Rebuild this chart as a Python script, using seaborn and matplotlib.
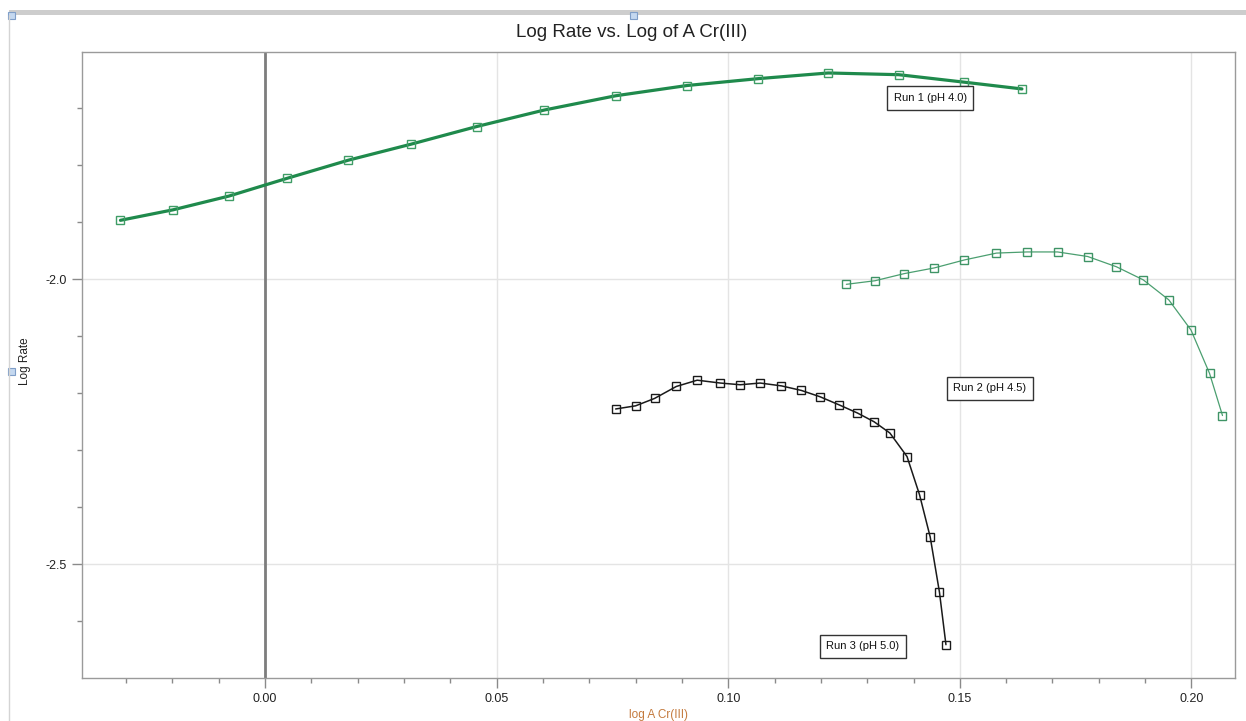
import numpy as np
import pandas as pd
import matplotlib
matplotlib.use("Agg")
import matplotlib.pyplot as plt
import seaborn as sns
from matplotlib.ticker import MultipleLocator, FormatStrFormatter
from matplotlib.patches import Rectangle
from matplotlib.lines import Line2D

# ---- data ----
run1_x = [-0.0312, -0.0198, -0.0078, 0.0047, 0.0180, 0.0315, 0.0457, 0.0603,
          0.0757, 0.0911, 0.1064, 0.1216, 0.1368, 0.1508, 0.1634]
run1_y = [-1.8965, -1.878, -1.854, -1.823, -1.791, -1.763, -1.732, -1.703,
          -1.678, -1.660, -1.648, -1.638, -1.641, -1.654, -1.666]

run2_x = [0.1255, 0.1317, 0.1380, 0.1445, 0.1510, 0.1579, 0.1645, 0.1711,
          0.1776, 0.1838, 0.1896, 0.1951, 0.1999, 0.2039, 0.2067]
run2_y = [-2.0088, -2.0025, -1.990, -1.980, -1.966, -1.954, -1.952, -1.952,
          -1.960, -1.978, -2.001, -2.036, -2.089, -2.165, -2.239]

run3_x = [0.0757, 0.0800, 0.0841, 0.0888, 0.0933, 0.0983, 0.1026, 0.1069,
          0.1115, 0.1158, 0.1198, 0.1240, 0.1279, 0.1315, 0.1349, 0.1386,
          0.1413, 0.1436, 0.1456, 0.1470]
run3_y = [-2.2275, -2.222, -2.209, -2.188, -2.177, -2.182, -2.185, -2.182,
          -2.187, -2.195, -2.206, -2.2205, -2.2346, -2.250, -2.2697, -2.311,
          -2.378, -2.452, -2.549, -2.641]

run_labels = ["Run 1 (pH 4.0)", "Run 2 (pH 4.5)", "Run 3 (pH 5.0)"]
label_pos = [(0.1436, -1.682), (0.1565, -2.191), (0.1291, -2.644)]

title = "Log Rate vs. Log of A Cr(III)"
xlabel = "log A Cr(III)"
ylabel = "Log Rate"

# ---- style ----
sns.set_theme(style="white")
plt.rcParams["font.family"] = ["Liberation Sans", "DejaVu Sans"]
plt.rcParams["axes.unicode_minus"] = False

W, H = 1246, 721
fig = plt.figure(figsize=(W / 100, H / 100), dpi=100)
fig.patch.set_facecolor("white")

left, right, top, bottom = 82, 1235, 52, 678
ax = fig.add_axes([left / W, 1 - bottom / H, (right - left) / W, (bottom - top) / H])

ax.set_xlim(-0.0395, 0.2094)
ax.set_ylim(-2.6995, -1.6012)

ax.grid(True, which="major", color="#e4e4e4", lw=1, zorder=0)
ax.axvline(0, color="#7d7d7d", lw=2, zorder=1)

series = [
    (run1_x, run1_y, dict(color="#1f8a4c", lw=2.3, markeredgecolor="#3f9d66")),
    (run2_x, run2_y, dict(color="#4b9f70", lw=0.9, markeredgecolor="#3f9466")),
    (run3_x, run3_y, dict(color="#1a1a1a", lw=1.1, markeredgecolor="#1a1a1a")),
]
for xs, ys, kw in series:
    df = pd.DataFrame({"x": xs, "y": ys})
    sns.lineplot(data=df, x="x", y="y", ax=ax, sort=False, estimator=None,
                 marker="s", markersize=5.5, markerfacecolor="none",
                 markeredgewidth=1.0, zorder=3, **kw)

for txt, (tx, ty) in zip(run_labels, label_pos):
    ax.text(tx, ty, txt, ha="center", va="center", fontsize=8, color="#111",
            zorder=5,
            bbox=dict(boxstyle="square,pad=0.6", fc="white", ec="#333", lw=1))

# ticks
ax.xaxis.set_major_locator(MultipleLocator(0.05))
ax.xaxis.set_minor_locator(MultipleLocator(0.01))
ax.xaxis.set_major_formatter(FormatStrFormatter("%.2f"))
ax.yaxis.set_major_locator(MultipleLocator(0.5))
ax.yaxis.set_minor_locator(MultipleLocator(0.1))
ax.yaxis.set_major_formatter(FormatStrFormatter("%.1f"))
ax.tick_params(which="both", bottom=True, left=True, direction="out",
               color="#8a8a8a", width=1)
ax.tick_params(which="major", length=7, labelsize=9, labelcolor="#222", pad=4)
ax.tick_params(which="minor", length=3.5)

for sp in ax.spines.values():
    sp.set_color("#9a9a9a")
    sp.set_linewidth(1)
    sp.set_visible(True)

ax.set_xlabel(xlabel, fontsize=8.5, color="#c47a3d")
ax.xaxis.set_label_coords(0.4999, -(709 - bottom) / (bottom - top))
ax.set_ylabel(ylabel, fontsize=8.5, color="#222")
ax.yaxis.set_label_coords((25 - left) / (right - left), (bottom - 361) / (bottom - top))
ax.yaxis.label.set_va("center")
ax.yaxis.label.set_ha("center")

fig.text(632 / W, 1 - 32.5 / H, title, ha="center", va="center",
         fontsize=13.5, color="#222")

# window frame decorations (UI chrome around the chart)
fig.add_artist(Rectangle((9 / W, 1 - 15 / H), 1 - 9 / W, 5 / H,
                         transform=fig.transFigure, color="#cdcdcd", lw=0))
fig.add_artist(Line2D([9 / W, 9 / W], [0, 1 - 15 / H], transform=fig.transFigure,
                      color="#d4d4d4", lw=1))
for cx, cy in [(11, 15), (633, 15), (11, 371)]:
    fig.add_artist(Rectangle(((cx - 3.5) / W, 1 - (cy + 3.5) / H), 7 / W, 7 / H,
                             transform=fig.transFigure, fc="#c4d8f0",
                             ec="#7f9ec8", lw=0.8))

fig.savefig("out.png", dpi=100)
